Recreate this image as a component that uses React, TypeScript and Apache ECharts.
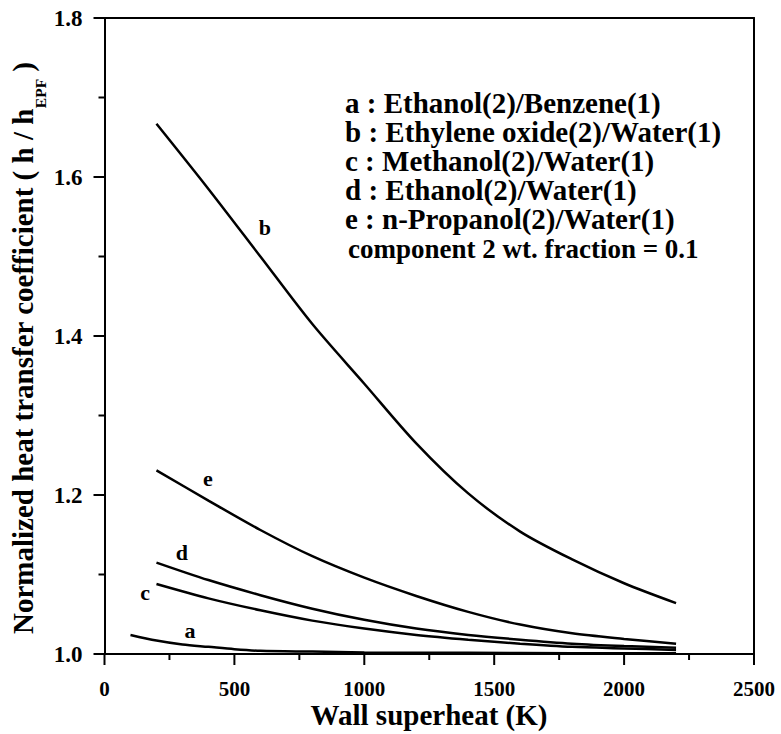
import React, { useEffect, useRef } from "react";
import * as echarts from "echarts";

// Wall superheat (K) vs normalized heat transfer coefficient (h / h_EPF)
const seriesA: [number, number][] = [[100, 1.024], [200, 1.017], [300, 1.012], [400, 1.009], [500, 1.006], [600, 1.004], [800, 1.003], [1000, 1.002], [1400, 1.0015], [1800, 1.001], [2200, 1.001]];
const seriesB: [number, number][] = [[200, 1.667], [400, 1.585], [600, 1.5], [800, 1.415], [1000, 1.34], [1200, 1.265], [1400, 1.202], [1600, 1.154], [1800, 1.119], [2000, 1.089], [2200, 1.064]];
const seriesC: [number, number][] = [[200, 1.088], [400, 1.07], [600, 1.055], [800, 1.042], [1000, 1.032], [1200, 1.024], [1400, 1.018], [1600, 1.013], [1800, 1.009], [2000, 1.007], [2200, 1.005]];
const seriesD: [number, number][] = [[200, 1.115], [400, 1.093], [600, 1.074], [800, 1.057], [1000, 1.043], [1200, 1.032], [1400, 1.024], [1600, 1.018], [1800, 1.013], [2000, 1.01], [2200, 1.008]];
const seriesE: [number, number][] = [[200, 1.231], [400, 1.193], [600, 1.156], [800, 1.123], [1000, 1.096], [1200, 1.073], [1400, 1.053], [1600, 1.037], [1800, 1.026], [2000, 1.019], [2200, 1.013]];

const curveNames = ["a", "b", "c", "d", "e"];
// curve label anchors, in data units
const labelPositions: [number, number][] = [[329, 1.03], [617, 1.536], [156, 1.077], [298, 1.128], [398, 1.221]];

// axis ticks
const xMajorTicks = [0, 500, 1000, 1500, 2000, 2500];
const xMinorTicks = [250, 750, 1250, 1750, 2250];
const yMajorTicks = [1.0, 1.2, 1.4, 1.6, 1.8];
const yMinorTicks = [1.1, 1.3, 1.5, 1.7];

const legendLines = [
  "a : Ethanol(2)/Benzene(1)",
  "b : Ethylene oxide(2)/Water(1)",
  "c : Methanol(2)/Water(1)",
  "d : Ethanol(2)/Water(1)",
  "e : n-Propanol(2)/Water(1)",
];
const noteLine = "component 2 wt. fraction = 0.1";
const xTitle = "Wall superheat (K)";
const yTitleParts = ["Normalized heat transfer coefficient ( h / h", "EPF", " )"];

const FONT = "Liberation Serif";

function measure(text: string, size: number): number {
  try {
    const t = new (echarts.graphic as any).Text({ style: { text, fontFamily: FONT, fontWeight: "bold", fontSize: size } });
    const w = t.getBoundingRect().width;
    if (w > 0 && isFinite(w)) return w;
  } catch (e) {
    /* fall back */
  }
  return text.length * size * 0.46;
}

export default function App() {
  const ref = useRef<HTMLDivElement>(null);
  useEffect(() => {
    if (!ref.current) return;
    const chart = echarts.init(ref.current, undefined, { renderer: "svg" });

    const tickData: number[][] = [
      ...xMajorTicks.map((v) => [v, 1.0, 0]),
      ...xMinorTicks.map((v) => [v, 1.0, 1]),
      ...yMajorTicks.map((v) => [0, v, 2]),
      ...yMinorTicks.map((v) => [0, v, 3]),
    ];
    const series: any[] = [
      {
        type: "custom",
        name: "ticks",
        silent: true,
        clip: false,
        z: 5,
        encode: { x: 0, y: 1 },
        data: tickData,
        renderItem: (params: any, api: any) => {
          const xv = api.value(0);
          const yv = api.value(1);
          const kind = api.value(2);
          const p = api.coord([xv, yv]);
          const children: any[] = [];
          const textBase = { fill: "#000", fontFamily: FONT, fontWeight: "bold" };
          if (kind === 0 || kind === 1) {
            const len = kind === 0 ? 11 : 6;
            children.push({ type: "line", shape: { x1: p[0], y1: p[1], x2: p[0], y2: p[1] + len }, style: { stroke: "#000", lineWidth: 2 } });
            if (kind === 0) {
              children.push({ type: "text", style: { ...textBase, text: String(xv), x: p[0], y: p[1] + 24, fontSize: 21, align: "center", verticalAlign: "top" } });
            }
          } else {
            const len = kind === 2 ? 11 : 6;
            children.push({ type: "line", shape: { x1: p[0], y1: p[1], x2: p[0] - len, y2: p[1] }, style: { stroke: "#000", lineWidth: 2 } });
            if (kind === 2) {
              children.push({ type: "text", style: { ...textBase, text: Number(yv).toFixed(1), x: p[0] - 22, y: p[1], fontSize: 23, align: "right", verticalAlign: "middle" } });
            }
          }
          return { type: "group", children };
        },
      },
      {
        type: "custom",
        name: "curve labels",
        silent: true,
        clip: false,
        z: 5,
        encode: { x: 0, y: 1 },
        data: labelPositions.map((p, i) => [p[0], p[1], i]),
        renderItem: (params: any, api: any) => {
          const p = api.coord([api.value(0), api.value(1)]);
          return {
            type: "text",
            style: { text: curveNames[api.value(2)], x: p[0], y: p[1], fill: "#000", fontFamily: FONT, fontWeight: "bold", fontSize: 22, align: "center", verticalAlign: "middle" },
          };
        },
      },
    ];
    [seriesA, seriesB, seriesC, seriesD, seriesE].forEach((d, i) => {
      series.push({
        type: "line",
        name: curveNames[i],
        data: d,
        smooth: 0.3,
        showSymbol: false,
        lineStyle: { color: "#000", width: 2.5 },
        itemStyle: { color: "#000" },
      });
    });

    const lineYs = [103, 132, 161, 190, 219];
    const graphics: any[] = legendLines.map((t, i) => ({
      type: "text",
      x: 345,
      y: lineYs[i],
      style: { text: t, fill: "#000", fontFamily: FONT, fontWeight: "bold", fontSize: 29, verticalAlign: "middle" },
    }));
    graphics.push({
      type: "text",
      x: 348,
      y: 249,
      style: { text: noteLine, fill: "#000", fontFamily: FONT, fontWeight: "bold", fontSize: 27, verticalAlign: "middle" },
    });
    graphics.push({
      type: "text",
      x: 429,
      y: 715,
      style: { text: xTitle, fill: "#000", fontFamily: FONT, fontWeight: "bold", fontSize: 29, align: "center", verticalAlign: "middle" },
    });
    // y title, reading bottom to top, with subscript
    const sizes = [29, 15.5, 29];
    const widths = yTitleParts.map((t, i) => measure(t, sizes[i]));
    const total = widths[0] + widths[1] + widths[2];
    const y0 = 348 + total / 2;
    const xs = [23, 40, 23];
    let acc = 0;
    yTitleParts.forEach((t, i) => {
      graphics.push({
        type: "text",
        x: xs[i],
        y: y0 - acc,
        rotation: Math.PI / 2,
        style: { text: t, fill: "#000", fontFamily: FONT, fontWeight: "bold", fontSize: sizes[i], align: "left", verticalAlign: "middle" },
      });
      acc += widths[i];
    });

    const line = { show: true, onZero: false, lineStyle: { color: "#000", width: 2 } };
    chart.setOption({
      animation: false,
      backgroundColor: "#fff",
      grid: { left: 104.5, right: 27, top: 18, bottom: 80, show: false },
      xAxis: [
        { type: "value", min: 0, max: 2500, interval: 500, axisLine: line, splitLine: { show: false }, axisTick: { show: false }, axisLabel: { show: false } },
        { type: "value", position: "top", min: 0, max: 2500, interval: 500, axisLine: line, splitLine: { show: false }, axisTick: { show: false }, axisLabel: { show: false } },
      ],
      yAxis: [
        { type: "value", min: 1.0, max: 1.8, interval: 0.2, axisLine: line, splitLine: { show: false }, axisTick: { show: false }, axisLabel: { show: false } },
        { type: "value", position: "right", min: 1.0, max: 1.8, interval: 0.2, axisLine: line, splitLine: { show: false }, axisTick: { show: false }, axisLabel: { show: false } },
      ],
      graphic: graphics,
      series,
    });
    return () => chart.dispose();
  }, []);
  return <div ref={ref} style={{ width: 781, height: 734, position: "absolute", left: 0, top: 0 }} />;
}
